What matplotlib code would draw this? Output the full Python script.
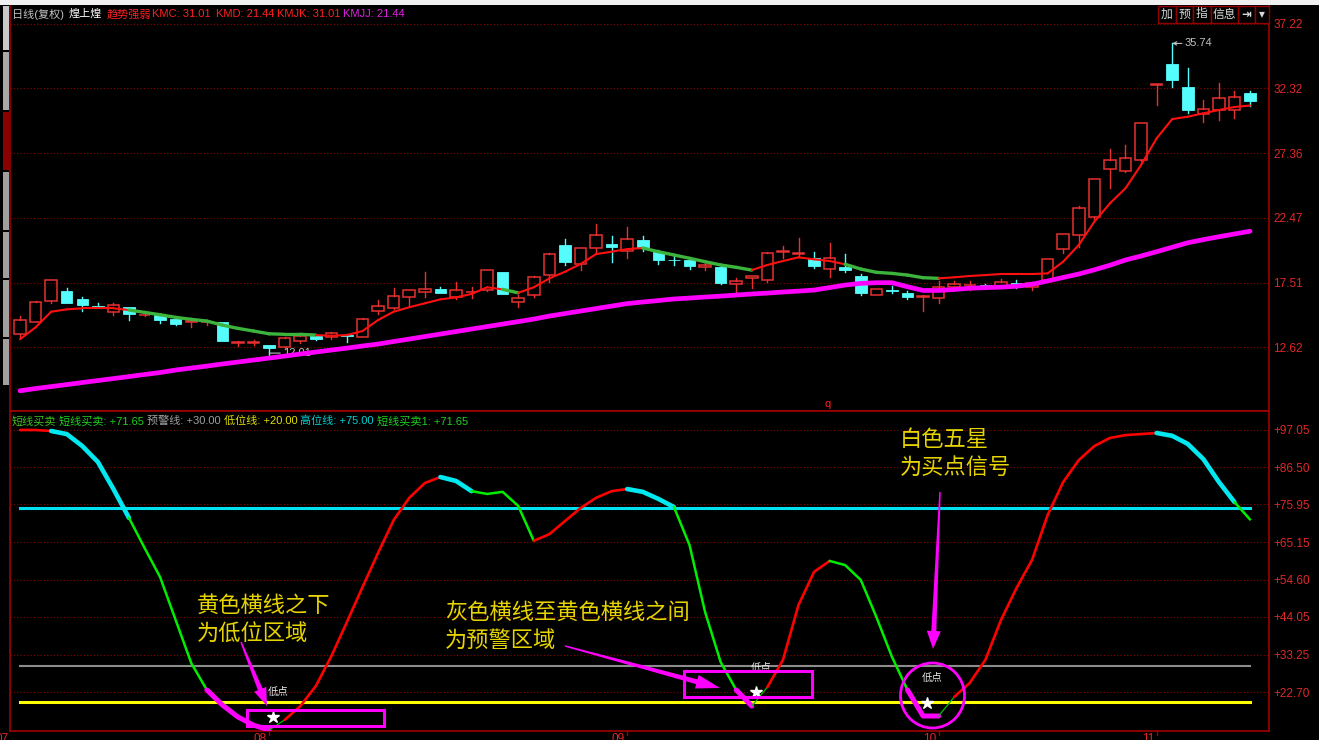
import numpy as np
import matplotlib
matplotlib.use('Agg')
import matplotlib.pyplot as plt
from matplotlib.patches import Rectangle, Ellipse, Polygon
import matplotlib.transforms as mtransforms

plt.rcParams['font.family'] = ['Liberation Sans', 'Noto Sans CJK SC', 'DejaVu Sans']

# ---------------- data ----------------
opens = [13.59, 14.55, 16.10, 16.91, 16.25, 15.75, 15.29, 15.64, 15.03, 15.06,
         14.78, 14.52, 14.50, 14.50, 12.95, 12.96, 12.75, 12.64, 13.10, 13.45,
         13.36, 13.55, 13.40, 15.36, 15.61, 16.40, 16.81, 17.04, 16.40, 16.78,
         16.96, 18.31, 16.02, 16.56, 18.08, 20.37, 18.92, 20.18, 20.49, 19.93,
         20.75, 19.88, 19.28, 19.25, 18.69, 18.74, 17.40, 17.85, 17.72, 19.85,
         19.73, 19.42, 18.54, 18.74, 18.03, 16.60, 16.93, 16.71, 16.43, 16.37,
         17.19, 17.32, 17.35, 17.29, 17.47, 17.17, 17.72, 20.11, 21.17, 22.50,
         26.20, 26.05, 26.86, 32.60, 34.17, 32.40, 30.37, 30.67, 30.67, 31.99]
highs = [14.98, 16.10, 17.75, 17.09, 16.40, 15.97, 15.95, 15.70, 15.25, 15.10,
         14.88, 14.80, 14.62, 14.55, 13.10, 13.12, 12.80, 13.40, 13.55, 13.55,
         13.80, 13.60, 14.80, 16.20, 17.09, 17.00, 18.31, 17.20, 17.55, 17.20,
         18.50, 18.35, 16.58, 18.00, 19.75, 20.85, 20.20, 21.99, 21.07, 21.74,
         21.07, 20.01, 19.60, 19.30, 19.10, 18.80, 17.85, 18.05, 19.85, 20.31,
         20.90, 19.86, 20.52, 19.68, 18.18, 17.05, 17.30, 16.85, 16.55, 17.65,
         17.65, 17.65, 17.45, 17.80, 17.70, 17.55, 19.35, 21.25, 23.36, 25.45,
         27.68, 28.00, 29.70, 32.65, 35.74, 33.85, 31.40, 32.70, 32.12, 32.14]
lows = [13.40, 14.50, 15.95, 15.95, 15.34, 15.65, 15.08, 14.68, 14.95, 14.47,
        14.27, 14.12, 14.30, 13.05, 12.72, 12.80, 12.01, 12.45, 12.95, 13.15,
        13.20, 13.02, 13.35, 15.15, 15.49, 15.74, 16.45, 16.70, 16.25, 16.35,
        16.90, 16.65, 15.69, 16.40, 17.59, 18.87, 18.49, 19.76, 19.12, 19.38,
        19.91, 18.92, 18.87, 18.54, 18.50, 17.45, 16.83, 17.14, 17.55, 19.38,
        19.50, 18.61, 17.97, 18.36, 16.60, 16.55, 16.70, 16.25, 15.38, 16.00,
        16.95, 16.95, 17.25, 17.20, 17.10, 16.95, 17.65, 19.80, 20.26, 22.40,
        24.75, 25.97, 26.80, 31.05, 32.40, 30.42, 29.78, 29.91, 30.04, 30.98]
closes = [14.68, 16.02, 17.70, 15.95, 15.80, 15.70, 15.80, 15.16, 15.08, 14.68,
          14.39, 14.57, 14.52, 13.10, 13.00, 12.99, 12.57, 13.28, 13.48, 13.25,
          13.66, 13.45, 14.73, 15.72, 16.48, 16.96, 17.01, 16.73, 16.94, 16.82,
          18.46, 16.68, 16.33, 17.95, 19.70, 19.09, 20.14, 21.15, 20.26, 20.87,
          20.16, 19.25, 19.22, 18.79, 18.84, 17.47, 17.65, 18.03, 19.80, 19.90,
          19.78, 18.79, 19.42, 18.46, 16.71, 17.01, 16.90, 16.40, 16.47, 17.21,
          17.40, 17.36, 17.30, 17.55, 17.30, 17.52, 19.30, 21.20, 23.18, 25.41,
          26.86, 26.99, 29.66, 32.63, 32.95, 30.67, 30.72, 31.56, 31.64, 31.36]

kmc = [13.21, 14.12, 15.31, 15.49, 15.57, 15.57, 15.57, 15.44, 15.26, 15.08,
       14.88, 14.73, 14.60, 14.29, 14.04, 13.84, 13.63, 13.59, 13.59, 13.53,
       13.48, 13.53, 13.84, 14.68, 15.31, 15.65, 15.95, 16.25, 16.40, 16.66,
       17.17, 17.01, 16.75, 17.17, 17.85, 18.35, 18.94, 19.70, 19.88, 20.08,
       20.16, 19.88, 19.63, 19.38, 19.12, 18.87, 18.69, 18.48, 18.87, 19.17,
       19.45, 19.30, 19.17, 18.92, 18.56, 18.31, 18.23, 18.10, 17.90, 17.85,
       17.93, 18.03, 18.10, 18.18, 18.18, 18.18, 18.23, 19.12, 20.39, 22.16,
       23.56, 24.71, 26.48, 28.51, 29.98, 30.16, 30.42, 30.67, 30.90, 31.01]
kmjj = [9.29, 9.46, 9.61, 9.76, 9.92, 10.07, 10.22, 10.37, 10.53, 10.68,
        10.87, 11.02, 11.17, 11.33, 11.48, 11.63, 11.78, 11.93, 12.09, 12.24,
        12.39, 12.54, 12.70, 12.85, 13.04, 13.23, 13.42, 13.61, 13.80, 13.99,
        14.18, 14.37, 14.56, 14.75, 14.98, 15.17, 15.36, 15.55, 15.74, 15.93,
        16.05, 16.16, 16.28, 16.35, 16.43, 16.50, 16.58, 16.66, 16.73, 16.81,
        16.88, 16.96, 17.15, 17.34, 17.47, 17.52, 17.52, 17.21, 16.93, 16.93,
        17.00, 17.10, 17.14, 17.18, 17.25, 17.40, 17.65, 17.92, 18.18, 18.50,
        18.85, 19.25, 19.55, 19.88, 20.22, 20.56, 20.80, 21.02, 21.23, 21.44]
kmc_down_ranges = [(7, 19), (31, 32), (40, 47), (53, 59)]

osc = [97.05, 97.05, 96.77, 95.9, 92.5, 88.0, 80.3, 72.1, 63.6, 55.3,
       43.1, 30.9, 23.3, 19.0, 15.6, 13.3, 11.9, 14.8, 18.7, 24.4,
       32.9, 42.6, 52.5, 62.2, 71.5, 77.8, 82.0, 83.7, 82.6, 79.7,
       78.9, 79.5, 75.5, 65.6, 67.5, 71.2, 74.9, 77.8, 79.7, 80.3,
       79.5, 77.5, 75.2, 64.4, 45.4, 31.2, 23.3, 18.7, 24.1, 31.8,
       47.4, 56.8, 59.9, 58.7, 54.5, 44.0, 32.7, 23.3, 15.9, 15.9,
       21.3, 25.3, 31.8, 43.1, 52.2, 60.2, 72.9, 82.3, 88.5, 92.5,
       94.8, 95.6, 95.9, 96.2, 95.4, 93.1, 88.8, 82.3, 76.6, 71.65]
osc_runs = [('r', 0, 2), ('c', 2, 7), ('g', 7, 12), ('m', 12, 16), ('t', 16, 17),
            ('r', 17, 27), ('c', 27, 29), ('g', 29, 33), ('r', 33, 39), ('c', 39, 42),
            ('g', 42, 46), ('m', 46, 47), ('t', 47, 48), ('r', 48, 52), ('g', 52, 57),
            ('m', 57, 59), ('t', 59, 60), ('r', 60, 73), ('c', 73, 78), ('g', 78, 79)]
high_line, warn_line, low_line = 75.0, 30.0, 20.0
signal_idx = [16, 47, 58]
star_vals = [15.7, 22.8, 19.7]
label_vals = [22.7, 29.5, 26.7]

price_ticks = [37.22, 32.32, 27.36, 22.47, 17.51, 12.62]
osc_ticks = [97.05, 86.50, 75.95, 65.15, 54.60, 44.05, 33.25, 22.70]
month_idx = [16, 39, 59, 73]
month_labels = ['08', '09', '10', '11']

# ---------------- figure ----------------
W, H = 1319, 740
fig = plt.figure(figsize=(W / 100, H / 100), dpi=100, facecolor='black')


def frac(x0, y0, x1, y1):
    return [x0 / W, 1 - y1 / H, (x1 - x0) / W, (y1 - y0) / H]


ax1 = fig.add_axes(frac(10, 6, 1269, 411), facecolor='black')
ax2 = fig.add_axes(frac(10, 411, 1269, 731), facecolor='black')
XL = (-0.642, 80.218)
AXRED = '#e02828'
for ax in (ax1, ax2):
    ax.set_xlim(*XL)
    ax.set_xticks([])
    for s in ax.spines.values():
        s.set_color('#a00000')
        s.set_linewidth(1.2)
    ax.yaxis.tick_right()
    ax.tick_params(axis='y', length=0, pad=3, labelsize=8.5, labelcolor=AXRED)
    ax.grid(axis='y', color='#8b0000', linestyle=(0, (1, 2)), linewidth=0.8)
    ax.set_axisbelow(True)
ax1.spines['top'].set_visible(False)
ax1.set_ylim(7.75, 38.59)
ax2.set_ylim(11.64, 102.44)
ax1.set_yticks(price_ticks)
ax1.set_yticklabels([f'{v:.2f}' for v in price_ticks])
ax2.set_yticks(osc_ticks)
ax2.set_yticklabels([f'+{v:.2f}' for v in osc_ticks])

# candles
RED = '#e83030'
CYAN = '#54fcfc'
w = 0.74
for i in range(len(opens)):
    o, h, l, c = opens[i], highs[i], lows[i], closes[i]
    up = c >= o
    col = RED if up else CYAN
    top, bot = max(o, c), min(o, c)
    ax1.plot([i, i], [top, h], color=col, lw=1.0, zorder=3)
    ax1.plot([i, i], [l, bot], color=col, lw=1.0, zorder=3)
    hgt = max(top - bot, 0.03)
    if up:
        ax1.add_patch(Rectangle((i - w / 2, bot), w, hgt, fill=False,
                                edgecolor=col, lw=1.1, zorder=3))
    else:
        ax1.add_patch(Rectangle((i - w / 2, bot), w, hgt, facecolor=col,
                                edgecolor=col, lw=0.6, zorder=3))

# KMC line (red, green when falling)
for i in range(len(kmc) - 1):
    down = any(a <= i < b for a, b in kmc_down_ranges)
    ax1.plot([i, i + 1], [kmc[i], kmc[i + 1]],
             color='#3cb43c' if down else '#ff1010',
             lw=2.4 if down else 1.5, solid_capstyle='round', zorder=4)
# KMJJ line
ax1.plot(range(len(kmjj)), kmjj, color='#ff00ff', lw=3.4,
         solid_capstyle='round', zorder=4)

# price labels (low / high)
lo_i = int(np.argmin(lows))
hi_i = int(np.argmax(highs))
ax1.annotate(f'{lows[lo_i]:.2f}', xy=(lo_i, lows[lo_i] + 0.15), xytext=(10, 0),
             textcoords='offset points', color='#c0c0c0', fontsize=8,
             va='center', ha='left', zorder=3,
             arrowprops=dict(arrowstyle='-', color='#c0c0c0', lw=0.8,
                             shrinkA=0, shrinkB=0))
ax1.annotate(f'{highs[hi_i]:.2f}', xy=(hi_i, highs[hi_i]), xytext=(9, 0),
             textcoords='offset points', color='#c0c0c0', fontsize=8,
             va='center', ha='left', zorder=5,
             arrowprops=dict(arrowstyle='->', color='#c0c0c0', lw=0.8,
                             shrinkA=0, shrinkB=0, mutation_scale=6))

# oscillator
ostyle = {'r': ('#ff0000', 1.9), 'c': ('#00e8f0', 3.3), 'g': ('#00ee00', 1.8),
          'm': ('#ff00ff', 3.6), 't': ('#00c000', 0.9)}
xi = list(range(len(osc)))
ax2.plot([0, len(osc) - 1], [high_line, high_line], color='#00e0ee', lw=2.2, zorder=2)
ax2.plot([0, len(osc) - 1], [warn_line, warn_line], color='#8c8c8c', lw=1.5, zorder=2)
ax2.plot([0, len(osc) - 1], [low_line, low_line], color='#ffff00', lw=2.2, zorder=2)
for code, a, b in osc_runs:
    col, lw = ostyle[code]
    ax2.plot(xi[a:b + 1], osc[a:b + 1], color=col, lw=lw,
             solid_capstyle='round', solid_joinstyle='round', zorder=4)

for k, si in enumerate(signal_idx):
    ax2.plot([si + 0.27], [star_vals[k]], marker='*', ms=9, color='white',
             ls='none', zorder=6)
    ax2.text(si + 0.6, label_vals[k], '低点', color='#e8e8e8', fontsize=7.5,
             ha='center', va='center', zorder=6)

# month labels
trans = mtransforms.blended_transform_factory(ax2.transData, ax2.transAxes)
for idx, lab in zip(month_idx, month_labels):
    ax2.text(idx - 0.15, -0.005, lab, transform=trans, ha='right', va='top',
             color=AXRED, fontsize=8.5, clip_on=False)
    ax2.plot([idx, idx], [0, -0.012], transform=trans, color='#a00000',
             lw=1, clip_on=False)
ax2.text(XL[0] - 0.05, -0.005, '07', transform=trans, ha='right', va='top',
         color=AXRED, fontsize=8.5, clip_on=False)

# ---------------- overlay (pixel coords) ----------------
ov = fig.add_axes([0, 0, 1, 1])
ov.set_xlim(0, W)
ov.set_ylim(H, 0)
ov.axis('off')
ov.patch.set_alpha(0)
ov.set_zorder(10)

# top white strip and left sidebar
ov.add_patch(Rectangle((0, 0), W, 5, color='#f0f0f0', lw=0))
for y0, y1, c in [(6, 50, '#c8c8c8'), (52, 110, '#a8a8a8'), (112, 170, '#8b0000'),
                  (172, 230, '#a0a0a0'), (232, 278, '#a0a0a0'),
                  (280, 337, '#a0a0a0'), (339, 385, '#a0a0a0')]:
    ov.add_patch(Rectangle((3, y0), 6, y1 - y0, color=c, lw=0))

# toolbar
for x0, x1, t in [(1158, 1176, '加'), (1176, 1193, '预'), (1193, 1211, '指'),
                  (1211, 1238, '信息'), (1238, 1255, '⇥'), (1255, 1269, '▾')]:
    ov.add_patch(Rectangle((x0, 6), x1 - x0, 17, facecolor='black',
                           edgecolor='#900000', lw=1))
    ov.text((x0 + x1) / 2, 14.5, t, color='#d8d8d8', fontsize=8.5,
            ha='center', va='center',
            fontweight='bold' if t in ('⇥', '▾') else 'normal')

# headers
def header(items, y):
    for x, t, c in items:
        ov.text(x, y, t, color=c, fontsize=8, ha='left', va='center')


header([(12, '日线(复权)', '#c0c0c0'), (69, '煌上煌', '#ffffff'),
        (107, '趋势强弱', '#ff2020'), (152, 'KMC: 31.01', '#ff2020'),
        (216, 'KMD: 21.44', '#ff2020'), (277, 'KMJK: 31.01', '#ff2020'),
        (343, 'KMJJ: 21.44', '#e020e0')], 14)
header([(12, '短线买卖', '#40c020'), (59, '短线买卖: +71.65', '#20d020'),
        (147, '预警线: +30.00', '#a0a0a0'), (224, '低位线: +20.00', '#e0e000'),
        (300, '高位线: +75.00', '#00d0d0'), (377, '短线买卖1: +71.65', '#20d020')],
       421)
ov.text(828, 404, 'q', color='#ff2020', fontsize=8, ha='center', va='center')

# yellow annotation text
YEL = '#e6d300'
for x, y, t in [(197, 606, '黄色横线之下'), (197, 634, '为低位区域'),
                (445, 613, '灰色横线至黄色横线之间'), (445, 641, '为预警区域'),
                (900, 441, '白色五星'), (900, 468, '为买点信号')]:
    ov.text(x, y, t, color=YEL, fontsize=16, ha='left', va='center')

MAG = '#ff00ff'


def wedge(x0, y0, x1, y1, w0, w1, hw, hl):
    d = np.array([x1 - x0, y1 - y0], float)
    u = d / np.hypot(*d)
    n = np.array([-u[1], u[0]])
    tail = np.array([x0, y0], float)
    tip = np.array([x1, y1], float)
    base = tip - u * hl
    pts = [tail + n * w0 / 2, base + n * w1 / 2, base + n * hw / 2, tip,
           base - n * hw / 2, base - n * w1 / 2, tail - n * w0 / 2]
    ov.add_patch(Polygon(pts, closed=True, color=MAG, lw=0))


wedge(241, 642, 267, 706, 1.5, 5, 13, 18)
wedge(565, 646, 720, 688, 1.5, 5, 14, 24)
wedge(940, 492, 933, 649, 1.5, 5, 14, 18)

ov.add_patch(Rectangle((247, 710), 137, 16, fill=False, edgecolor=MAG, lw=2.2))
ov.add_patch(Rectangle((684, 671), 128, 26, fill=False, edgecolor=MAG, lw=2.2))
ov.add_patch(Ellipse((932.5, 695.5), 64, 65, fill=False, edgecolor=MAG, lw=2.0))

fig.savefig('out.png', dpi=100, facecolor='black')
